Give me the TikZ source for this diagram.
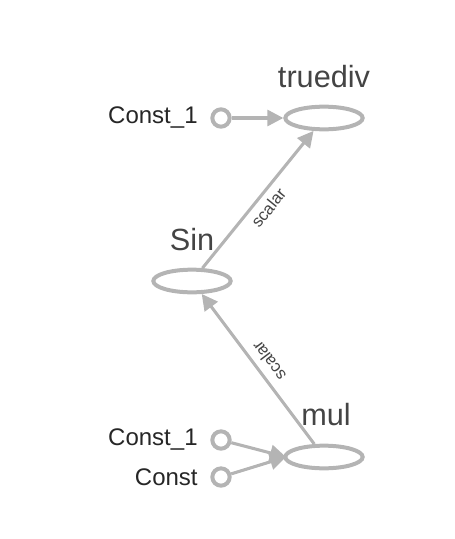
\documentclass[tikz,border=0pt]{standalone}
\usepackage{fontspec}
\setmainfont{Liberation Sans}
\usepackage{tikz}
\usetikzlibrary{arrows.meta}
\usetikzlibrary{shapes.geometric,positioning}

\definecolor{edgegray}{RGB}{180,180,180}
\definecolor{textgray}{RGB}{68,68,68}

\tikzset{
  opnode/.style={ellipse, draw=edgegray, line width=3pt, minimum width=58pt,
    minimum height=17pt, inner sep=0pt},
  constnode/.style={circle, draw=edgegray, line width=3pt, minimum size=13pt,
    inner sep=0pt},
  oplabel/.style={text=textgray, font=\fontsize{23}{26}\selectfont},
  constlabel/.style={text=black!85, font=\fontsize{18}{21}\selectfont},
  flow/.style={draw=edgegray, line width=2.3pt,
    -{Triangle[length=12pt, width=12pt]}},
  edgelabel/.style={text=textgray, font=\fontsize{12.5}{14}\selectfont, sloped}
}

\begin{document}
\begin{tikzpicture}[x=.75pt, y=-.75pt]
    \useasboundingbox (0,0) rectangle (454,539);

    % operation nodes
    \node[opnode] (truediv) at (324,118) {};
    \node[opnode] (sin) at (192,281) {};
    \node[opnode] (mul) at (324,457) {};

    % names above the operations
    \node[oplabel] (truedivname) at (324,77) {truediv};
    \node[oplabel] (sinname) at (192,240) {Sin};
    \node[oplabel] (mulname) at (326,415) {mul};

    % constants
    \node[constnode] (constA) at (221,118) {};
    \node[constnode] (constB) at (221,440) {};
    \node[constnode] (constC) at (221,477) {};
    \node[constlabel, left=6pt of constA] (constAname) {Const\_1};
    \node[constlabel, left=6pt of constB] (constBname) {Const\_1};
    \node[constlabel, left=6pt of constC] (constCname) {Const};

    % connectors
    \coordinate (mulin) at (286,457);
    \draw[flow] (constA) -- (truediv);
    \draw[flow] (constB) -- (mulin);
    \draw[flow] (constC) -- (mulin);
    \draw[flow] (sin) -- (truediv) node[edgelabel, midway, below=1pt] {scalar};
    \draw[flow] (mul) -- (sin) node[edgelabel, allow upside down, midway, below=1pt] {scalar};
  \end{tikzpicture}
\end{document}
